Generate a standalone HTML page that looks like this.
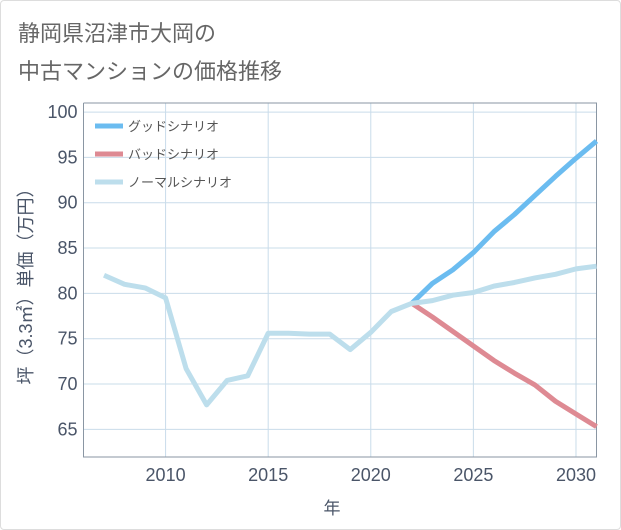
<!DOCTYPE html>
<html><head><meta charset="utf-8"><style>
body{margin:0;background:#fff;}
#wrap{position:relative;width:621px;height:530px;font-family:"Liberation Sans","Noto Sans CJK JP",sans-serif;}
#frame{position:absolute;left:0;top:0;width:619px;height:528px;border:1px solid #ddd;border-radius:4px;}
.title{position:absolute;left:18px;font-size:22px;color:#666;}
svg text{font-family:"Liberation Sans","Noto Sans CJK JP",sans-serif;}
</style></head><body>
<div id="wrap">
<div id="frame"></div>
<div class="title" style="top:16px">静岡県沼津市大岡の</div>
<div class="title" style="top:54px">中古マンションの価格推移</div>
<svg id="chart" width="621" height="530" style="position:absolute;left:0;top:0"></svg>
</div>
<script>
const years=[2007,2008,2009,2010,2011,2012,2013,2014,2015,2016,2017,2018,2019,2020,2021,2022,2023,2024,2025,2026,2027,2028,2029,2030,2031];
const normalVals=[82,81,80.6,79.5,71.7,67.7,70.4,70.9,75.6,75.6,75.5,75.5,73.8,75.7,78,78.9,79.2,79.8,80.1,80.8,81.2,81.7,82.1,82.7,83];
const futureYears=[2022,2023,2024,2025,2026,2027,2028,2029,2030,2031];
const goodVals=[78.9,81.1,82.6,84.5,86.8,88.7,90.8,92.9,94.9,96.8];
const badVals=[78.9,77.4,75.8,74.2,72.6,71.2,69.9,68.1,66.7,65.3];
const yTicks=[65,70,75,80,85,90,95,100];
const xTicks=[2010,2015,2020,2025,2030];
const L=83.5,R=596.5,T=103,B=457;
const x0=2006,x1=2031,y0=61.95,y1=101;
const X=v=>L+(v-x0)/(x1-x0)*(R-L);
const Y=v=>B-(v-y0)/(y1-y0)*(B-T);
const svg=document.getElementById('chart');
const NS='http://www.w3.org/2000/svg';
function mk(tag,attrs,parent){const e=document.createElementNS(NS,tag);for(const k in attrs)e.setAttribute(k,attrs[k]);(parent||svg).appendChild(e);return e;}
for(const v of yTicks){
 const g=mk('line',{x1:L,x2:R,y1:Y(v),y2:Y(v),stroke:'#c9dcea','stroke-width':1});
 
 
 const t=mk('text',{x:L-6,y:Y(v)+6,'text-anchor':'end','font-size':18,fill:'#4a5568'});
 t.textContent=v;
 
 
}
for(const v of xTicks){
 const g=mk('line',{x1:X(v),x2:X(v),y1:T,y2:B,stroke:'#c9dcea','stroke-width':1});
 
 
 const t=mk('text',{x:X(v),y:B+24,'text-anchor':'middle','font-size':18,fill:'#4a5568'});
 t.textContent=v;
 
 
}
const ax=mk('path',{d:`M${L},${T}V${B}H${R}V${T}H${L}`,fill:'none',stroke:'#8a96a3','stroke-width':1});


function line(xs,vs,color,name){
 const p=mk('polyline',{points:xs.map((x,i)=>X(x)+','+Y(vs[i])).join(' '),fill:'none',stroke:color,'stroke-width':5,'stroke-linejoin':'round'});
 
 
}
line(futureYears,goodVals,'#6bbcf0','good-scenario-line');
line(futureYears,badVals,'#de8a93','bad-scenario-line');
line(years,normalVals,'#bddeec','normal-scenario-line');
const leg=[['グッドシナリオ','#6bbcf0','legend-good'],['バッドシナリオ','#de8a93','legend-bad'],['ノーマルシナリオ','#bddeec','legend-normal']];
leg.forEach((l,i)=>{
 const y=126+i*28;
 const s=mk('line',{x1:95,x2:123,y1:y,y2:y,stroke:l[1],'stroke-width':5});
 
 
 const t=mk('text',{x:128,y:y+5,'font-size':13,fill:'#555'});
 t.textContent=l[0];
 
 
});
const xt=mk('text',{x:332,y:514,'text-anchor':'middle','font-size':17,fill:'#4a5568'});
xt.textContent='年';


const yt=mk('text',{x:0,y:0,'text-anchor':'middle','font-size':18,fill:'#4a5568',transform:'translate(32,282) rotate(-90)'});
yt.textContent='坪（3.3㎡）単価（万円）';


</script>
</body></html>
